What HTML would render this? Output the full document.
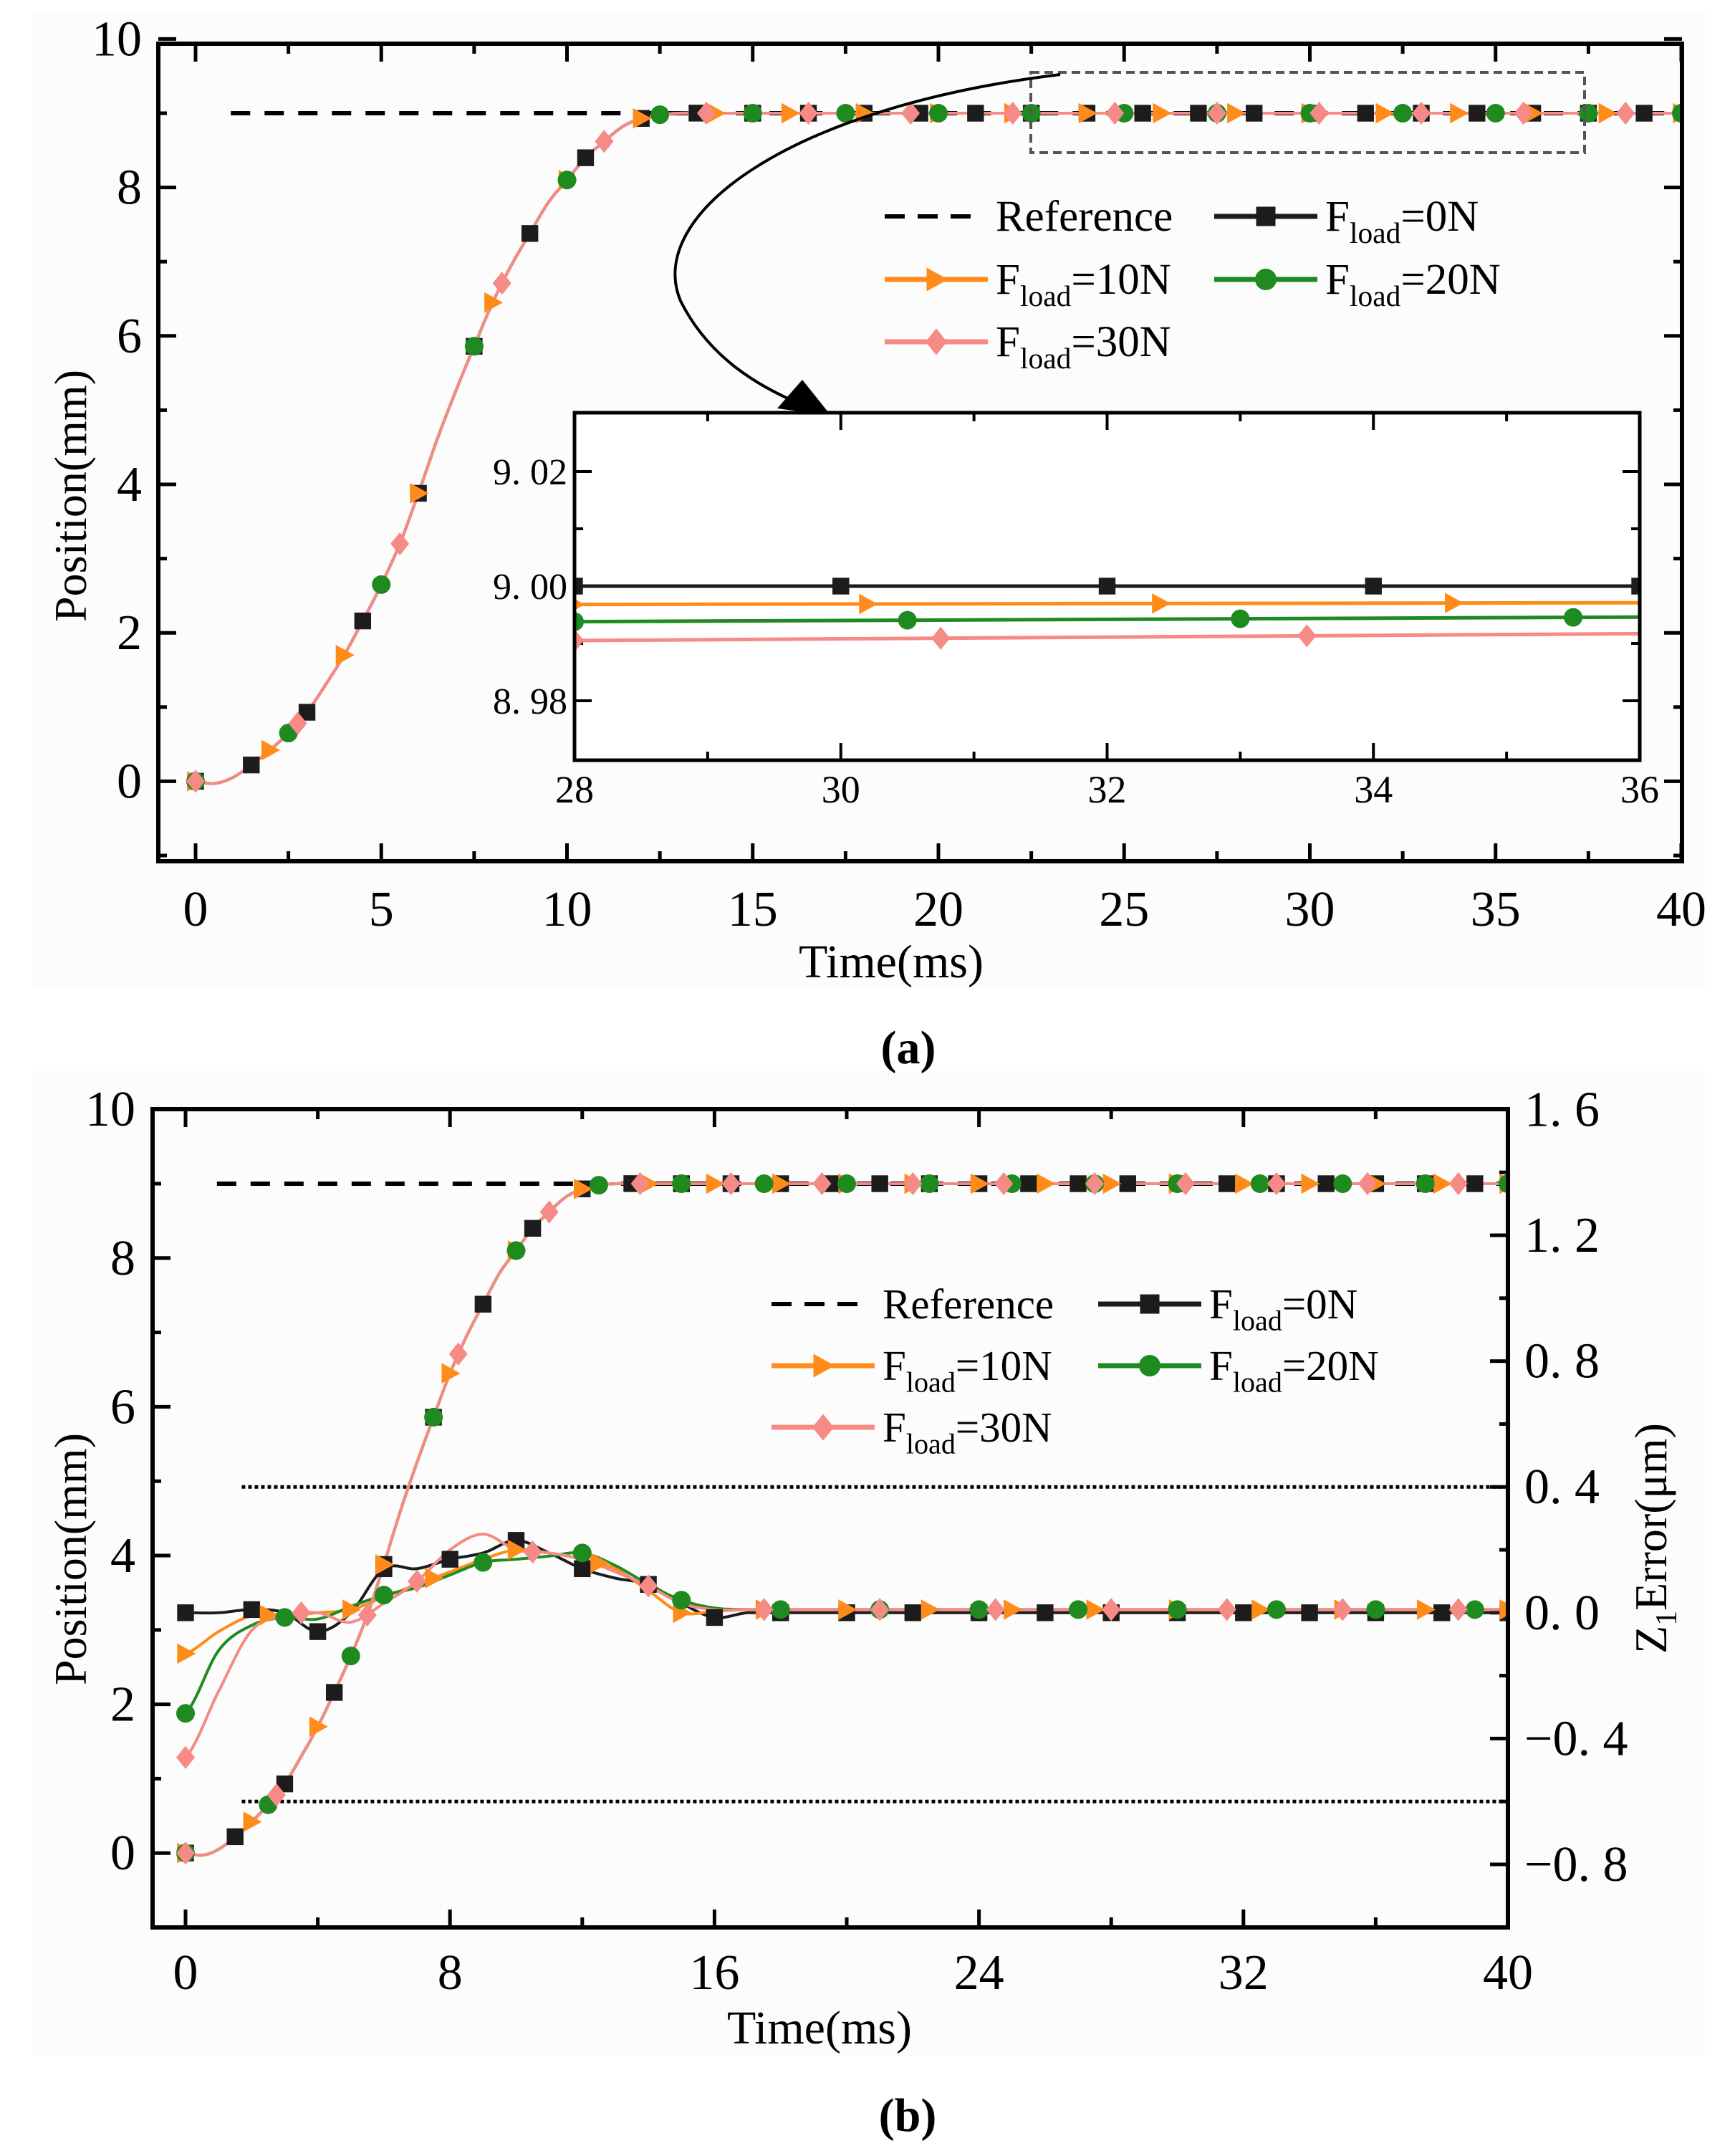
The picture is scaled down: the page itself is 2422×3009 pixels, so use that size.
<!DOCTYPE html>
<html><head><meta charset="utf-8">
<style>
html,body{margin:0;padding:0;background:#fff;}
svg{display:block;font-family:"Liberation Serif",serif;}
</style></head>
<body>
<svg id="fig" width="2422" height="3009" viewBox="0 0 2422 3009" xmlns="http://www.w3.org/2000/svg">
<rect x="0" y="0" width="2422" height="3009" fill="#fff"/>
<rect x="45" y="15" width="2335" height="1365" fill="#fcfcfc"/>
<rect x="45" y="1495" width="2335" height="1375" fill="#fcfcfc"/>
<g id="pa"></g>
<g id="pb"></g>
</svg>
<script>
// ---------- data ----------
const trajT = [0,0.5,1,1.5,2,2.5,3,3.5,4,4.5,5,5.5,6,6.5,7,7.5,8,8.5,9,9.5,10,10.5,11,11.5,12,12.5,13,14,40];
const trajY = [0,-0.03,0.05,0.22,0.42,0.65,0.93,1.3,1.7,2.16,2.65,3.2,3.88,4.6,5.25,5.86,6.45,6.95,7.38,7.8,8.1,8.4,8.62,8.82,8.93,8.98,9.0,9.0,9.0];
const refValue = 9;
const seriesNames = ["F0","F10","F20","F30"];
const insetT = [28,36];
const insetBlack = [9.0,9.0];
const insetOrange = [8.9968,8.9971];
const insetGreen = [8.9938,8.9946];
const insetPink = [8.9905,8.9917];
const errT = [0,1,2,3,4,5,6,7,8,9,10,11,12,13,14,15,16,17,40];
const errBlack = [0.0,0.0,0.01,0.0,-0.06,0.0,0.14,0.14,0.17,0.19,0.23,0.19,0.14,0.11,0.09,0.03,-0.015,0.0,0.0];
const errOrange = [-0.13,-0.06,-0.01,-0.01,0.0,0.01,0.05,0.09,0.13,0.17,0.2,0.19,0.17,0.14,0.07,0.0,0.005,0.01,0.01];
const errGreen = [-0.32,-0.12,-0.04,-0.015,-0.02,0.02,0.056,0.08,0.12,0.16,0.17,0.18,0.19,0.15,0.09,0.04,0.015,0.01,0.01];
const errPink = [-0.46,-0.25,-0.056,-0.01,0.0,-0.03,0.03,0.1,0.2,0.25,0.2,0.19,0.17,0.13,0.085,0.03,0.01,0.01,0.01];
const errBand = [0.4,-0.6];
const xTicksA = [0,5,10,15,20,25,30,35,40];
const yTicksA = [0,2,4,6,8,10];
const xTicksB = [0,8,16,24,32,40];
const yTicksB = [0,2,4,6,8,10];
const yTicksR = [-0.8,-0.4,0.0,0.4,0.8,1.2,1.6];
const yTickRLabels = ["\u22120. 8","\u22120. 4","0. 0","0. 4","0. 8","1. 2","1. 6"];
const insetXTicks = [28,30,32,34,36];
const insetYTicks = [8.98,9.00,9.02];
const insetYLabels = ["8. 98","9. 00","9. 02"];

// ---------- helpers ----------
const NS="http://www.w3.org/2000/svg";
const COL={F0:"#1c1c1c",F10:"#ff8c1a",F20:"#1f8a1f",F30:"#f58a86"};
const TICKFS=70;
function mk(parent,tag,attrs){const e=document.createElementNS(NS,tag);for(const k in attrs)e.setAttribute(k,attrs[k]);parent.appendChild(e);return e;}
function interp(ts,ys,t){if(t<=ts[0])return ys[0];for(let i=1;i<ts.length;i++){if(t<=ts[i]){const a=ts[i-1],b=ts[i];const y0=ys[i-1],y1=ys[i];const ym=i>1?ys[i-2]:y0,yp=i<ys.length-1?ys[i+1]:y1;const u=(t-a)/(b-a);const m0=(y1-ym)/2,m1=(yp-y0)/2;const h00=2*u*u*u-3*u*u+1,h10=u*u*u-2*u*u+u,h01=-2*u*u*u+3*u*u,h11=u*u*u-u*u;const lim=(b-a)>3?0:1;return h00*y0+h10*m0*lim+h01*y1+h11*m1*lim;}}return ys[ys.length-1];}
function curvePath(ts,ys,sx,sy,t0,t1,step){let d="";for(let t=t0;t<=t1+1e-9;t+=step){d+=(d?"L":"M")+sx(t).toFixed(1)+","+sy(interp(ts,ys,t)).toFixed(1);}return d;}
function marker(g,kind,x,y,color,s){
  let e;
  if(kind==="F0"){e=mk(g,"rect",{x:x-s*0.45,y:y-s*0.45,width:s*0.9,height:s*0.9,fill:color});}
  else if(kind==="F10"){e=mk(g,"polygon",{points:`${x-s*0.45},${y-s*0.55} ${x+s*0.55},${y} ${x-s*0.45},${y+s*0.55}`,fill:color});}
  else if(kind==="F20"){e=mk(g,"circle",{cx:x,cy:y,r:s*0.5,fill:color});}
  else {e=mk(g,"polygon",{points:`${x},${y-s*0.62} ${x+s*0.5},${y} ${x},${y+s*0.62} ${x-s*0.5},${y}`,fill:color});}
  return e;
}
function txt(g,x,y,s,size,anchor,name){const e=mk(g,"text",{x:x,y:y,"font-size":size,"text-anchor":anchor||"middle",fill:"#000"});e.textContent=s;return e;}
function fload(g,x,y,val,size,name){const e=mk(g,"text",{x:x,y:y,"font-size":size,fill:"#000"});
  const a=mk(e,"tspan",{});a.textContent="F";const b=mk(e,"tspan",{"font-size":size*0.68,dy:size*0.28});b.textContent="load";const c=mk(e,"tspan",{dy:-size*0.28});c.textContent="="+val;}

function legend(g,x0,x1,y1,y2,y3,size){
  const L=g;
  const lw=x0+130, tx=x0+155;
  const l1=mk(L,"line",{x1:x0,y1:y1,x2:lw,y2:y1,stroke:"#000","stroke-width":6,"stroke-dasharray":"28,18"});
  
  txt(L,tx,y1+20,"Reference",size,"start","legend-reference-label");
  const entries=[["F0",x1,y1,"0N"],["F10",x0,y2,"10N"],["F20",x1,y2,"20N"],["F30",x0,y3,"30N"]];
  for(const [k,xx,yy,v] of entries){
    const ln=mk(L,"line",{x1:xx,y1:yy,x2:xx+144,y2:yy,stroke:COL[k],"stroke-width":7});
    
    const m=marker(L,k,xx+72,yy,COL[k],30);
    
    fload(L,xx+155,yy+20,v,size,'legend-'+k+'-label');
  }
}
const markerStep={F0:1.5,F10:2.0,F20:2.5,F30:2.75};

// ---------- Panel A ----------
(function(){
  const g=document.getElementById('pa');
  const X0=273,PX=51.85,PY=103.6;
  const sx=t=>X0+t*PX;
  const syy=v=>1194-(v+1)*PY;
  const L=221,R=2348,T=61,B=1202;
  const clip=mk(g,"clipPath",{id:"clipA"});mk(clip,"rect",{x:L,y:T,width:R-L,height:B-T});
  const tk=mk(g,"g",{stroke:"#000","stroke-width":5});
  
  for(let t=0;t<=40;t+=2.5){const maj=xTicksA.includes(t);const l=maj?25:14;mk(tk,"line",{x1:sx(t),y1:B,x2:sx(t),y2:B-l});mk(tk,"line",{x1:sx(t),y1:T,x2:sx(t),y2:T+l});}
  for(let v=-1;v<=10;v+=1){const maj=yTicksA.includes(v);const l=maj?25:12;mk(tk,"line",{x1:L,y1:syy(v),x2:L+l,y2:syy(v)});mk(tk,"line",{x1:R,y1:syy(v),x2:R-l,y2:syy(v)});}
  xTicksA.forEach(t=>txt(g,sx(t),1292,String(t),TICKFS,"middle","x-tick-label-a"));
  yTicksA.forEach(v=>txt(g,198,syy(v)+23,String(v),TICKFS,"end","y-tick-label-a"));
  const ref=mk(g,"line",{x1:sx(0.95),y1:syy(refValue),x2:R,y2:syy(refValue),stroke:"#000","stroke-width":6,"stroke-dasharray":"27,20"});
  
  const sg=mk(g,"g",{"clip-path":"url(#clipA)"});
  const order=["F0","F10","F20","F30"];
  for(const k of order){
    const p=mk(sg,"path",{d:curvePath(trajT,trajY,sx,syy,0,40,0.1),fill:"none",stroke:COL[k],"stroke-width":4});
    
  }
  for(const k of order){
    for(let t=0;t<=40.01;t+=markerStep[k]){const m=marker(sg,k,sx(t),syy(interp(trajT,trajY,t)),COL[k],26);
      }
  }
  const fr=mk(g,"rect",{x:L,y:T,width:R-L,height:B-T,fill:"none",stroke:"#000","stroke-width":6});
  
  const zb=mk(g,"rect",{x:1439,y:101,width:773,height:112,fill:"none",stroke:"#555","stroke-width":4,"stroke-dasharray":"12,7"});
  
  const ar=mk(g,"path",{d:"M1480,104 C1100,150 900,300 950,420 C990,500 1060,540 1120,565",fill:"none",stroke:"#000","stroke-width":4});
  
  const ah=mk(g,"polygon",{points:"1160,580 1085,570 1120,530",fill:"#000"});
  
  const yl=txt(g,0,0,"Position(mm)",64,"middle","y-axis-title-a");yl.setAttribute("transform","translate(120,692) rotate(-90)");
  txt(g,1244,1364,"Time(ms)",66,"middle","x-axis-title-a");
  const pl=txt(g,1268,1484,"(a)",66,"middle","panel-label-a");pl.setAttribute("font-weight","bold");
  const lg=mk(g,"g",{});
  legend(lg,1235,1695,302,390,477,61);
  // inset
  const IL=802,IR=2289,IT=576,IB=1061;
  const ix=t=>IL+(t-28)*(IR-IL)/8, iy=v=>818-(v-9.0)*8000;
  const ig=mk(g,"g",{});
  mk(ig,"rect",{x:IL,y:IT,width:IR-IL,height:IB-IT,fill:"#fff"});
  const ict=mk(g,"clipPath",{id:"clipI"});mk(ict,"rect",{x:IL,y:IT,width:IR-IL,height:IB-IT});
  const itk=mk(ig,"g",{stroke:"#000","stroke-width":4});
  for(let t=28;t<=36;t+=1){const maj=insetXTicks.includes(t);const l=maj?24:12;mk(itk,"line",{x1:ix(t),y1:IB,x2:ix(t),y2:IB-l});mk(itk,"line",{x1:ix(t),y1:IT,x2:ix(t),y2:IT+l});}
  for(let i=0;i<5;i++){const v=8.98+i*0.01;const maj=i%2===0;const l=maj?24:12;mk(itk,"line",{x1:IL,y1:iy(v),x2:IL+l,y2:iy(v)});mk(itk,"line",{x1:IR,y1:iy(v),x2:IR-l,y2:iy(v)});}
  insetXTicks.forEach(t=>txt(ig,ix(t),1120,String(t),54,"middle","inset-x-tick-label"));
  insetYTicks.forEach((v,i)=>txt(ig,792,iy(v)+18,insetYLabels[i],52,"end","inset-y-tick-label"));
  const isg=mk(ig,"g",{"clip-path":"url(#clipI)"});
  const iData={F0:insetBlack,F10:insetOrange,F20:insetGreen,F30:insetPink};
  const iStep={F0:2,F10:2.2,F20:2.5,F30:2.75};
  for(const k of order){
    const ys=iData[k];const f=t=>ys[0]+(ys[1]-ys[0])*(t-insetT[0])/(insetT[1]-insetT[0]);
    const l=mk(isg,"line",{x1:ix(28),y1:iy(f(28)),x2:ix(36),y2:iy(f(36)),stroke:COL[k],"stroke-width":5});
    
    for(let t=28;t<=36.01;t+=iStep[k]){const m=marker(isg,k,ix(t),iy(f(t)),COL[k],26);}
  }
  mk(ig,"rect",{x:IL,y:IT,width:IR-IL,height:IB-IT,fill:"none",stroke:"#000","stroke-width":5});
})();

// ---------- Panel B ----------
(function(){
  const g=document.getElementById('pb');
  const L=213,R=2105,T=1548,B=2690;
  const sx=t=>259+t*46.15, sy=v=>B-(v+1)*103.8, se=v=>2602-(v+0.8)*439;
  const clip=mk(g,"clipPath",{id:"clipB"});mk(clip,"rect",{x:L,y:T,width:R-L,height:B-T});
  const tk=mk(g,"g",{stroke:"#000","stroke-width":5});
  
  for(let t=0;t<=40;t+=4){const maj=xTicksB.includes(t);const l=maj?25:14;mk(tk,"line",{x1:sx(t),y1:B,x2:sx(t),y2:B-l});mk(tk,"line",{x1:sx(t),y1:T,x2:sx(t),y2:T+l});}
  for(let v=-1;v<=10;v+=1){const maj=yTicksB.includes(v);const l=maj?25:12;mk(tk,"line",{x1:L,y1:sy(v),x2:L+l,y2:sy(v)});}
  for(let i=-4;i<=8;i++){const v=i*0.2;const maj=i%2===0;const l=maj?25:12;mk(tk,"line",{x1:R,y1:se(v),x2:R-l,y2:se(v)});}
  xTicksB.forEach(t=>txt(g,sx(t),2776,String(t),TICKFS,"middle","x-tick-label-b"));
  yTicksB.forEach(v=>txt(g,189,sy(v)+23,String(v),TICKFS,"end","y-tick-label-b"));
  yTicksR.forEach((v,i)=>txt(g,2128,se(v)+23,yTickRLabels[i],TICKFS,"start","right-tick-label-b"));
  const ref=mk(g,"line",{x1:sx(0.95),y1:sy(refValue),x2:R,y2:sy(refValue),stroke:"#000","stroke-width":6,"stroke-dasharray":"27,20"});
  
  errBand.forEach(v=>{const d=mk(g,"line",{x1:sx(1.7),y1:se(v),x2:R,y2:se(v),stroke:"#000","stroke-width":5,"stroke-dasharray":"5,4"});});
  const sg=mk(g,"g",{"clip-path":"url(#clipB)"});
  const order=["F0","F10","F20","F30"];
  const eData={F0:errBlack,F10:errOrange,F20:errGreen,F30:errPink};
  const eStep={F0:2,F10:2.5,F20:3,F30:3.5};
  for(const k of order){
    const p=mk(sg,"path",{d:curvePath(trajT,trajY,sx,sy,0,40,0.1),fill:"none",stroke:COL[k],"stroke-width":4});
    
    const q=mk(sg,"path",{d:curvePath(errT,eData[k],sx,se,0,40,0.1),fill:"none",stroke:COL[k],"stroke-width":4});
    
  }
  for(const k of order){
    for(let t=0;t<=40.01;t+=markerStep[k]){const m=marker(sg,k,sx(t),sy(interp(trajT,trajY,t)),COL[k],26);}
    for(let t=0;t<=40.01;t+=eStep[k]){const m=marker(sg,k,sx(t),se(interp(errT,eData[k],t)),COL[k],26);}
  }
  const fr=mk(g,"rect",{x:L,y:T,width:R-L,height:B-T,fill:"none",stroke:"#000","stroke-width":6});
  
  const yl=txt(g,0,0,"Position(mm)",64,"middle","y-axis-title-b");yl.setAttribute("transform","translate(120,2176) rotate(-90)");
  const yr=mk(g,"text",{"font-size":64,"text-anchor":"middle",transform:"translate(2326,2147) rotate(-90)"});
  
  const a=mk(yr,"tspan",{});a.textContent="Z";const b=mk(yr,"tspan",{"font-size":42,dy:14});b.textContent="1";const c=mk(yr,"tspan",{dy:-14});c.textContent="Error(\u03bcm)";
  txt(g,1144,2852,"Time(ms)",66,"middle","x-axis-title-b");
  const pl=txt(g,1267,2974,"(b)",66,"middle","panel-label-b");pl.setAttribute("font-weight","bold");
  const lg=mk(g,"g",{});
  legend(lg,1077,1533,1820,1906,1992,59);
})();
</script>
</body></html>
